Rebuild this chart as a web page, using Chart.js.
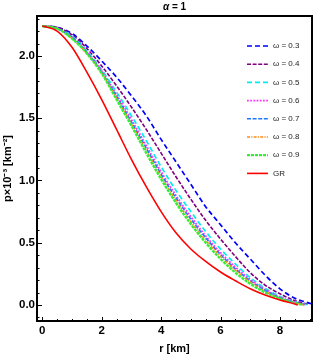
<!DOCTYPE html>
<html>
<head>
<meta charset="utf-8">
<script src="https://cdn.jsdelivr.net/npm/chart.js@4.4.1/dist/chart.umd.min.js"></script>
<style>
  body { margin: 0; background: #fff; }
  canvas { display: block; }
</style>
</head>
<body>
<canvas id="chart" width="313" height="357"></canvas>
<script>
// radius grid [km], shared by every curve; each curve then has its own end point
const rGrid = [0, 0.5, 1, 1.5, 2, 2.5, 3, 3.5, 4, 4.5, 5, 5.5, 6, 6.5, 7, 7.5, 8, 8.5];
const rEnd = [9.05, 8.95, 8.9, 8.87, 8.85, 8.82, 8.8, 8.6];

const labels = ["ω = 0.3", "ω = 0.4", "ω = 0.5", "ω = 0.6", "ω = 0.7", "ω = 0.8", "ω = 0.9", "GR"];

// p x 10^-3 [km^-2] (last value sits at rEnd)
const p03 = [2.24, 2.23, 2.18, 2.08, 1.96, 1.83, 1.68, 1.52, 1.33, 1.15, 0.97, 0.79, 0.645, 0.50, 0.37, 0.24, 0.13, 0.055, 0.01];
const p04 = [2.24, 2.23, 2.17, 2.06, 1.92, 1.76, 1.59, 1.41, 1.22, 1.03, 0.85, 0.68, 0.53, 0.39, 0.26, 0.16, 0.09, 0.035, 0.005];
const p05 = [2.24, 2.22, 2.16, 2.04, 1.89, 1.71, 1.52, 1.32, 1.11, 0.92, 0.75, 0.59, 0.45, 0.33, 0.22, 0.135, 0.07, 0.025, 0.003];
const p06 = [2.24, 2.22, 2.15, 2.03, 1.88, 1.69, 1.49, 1.28, 1.07, 0.88, 0.71, 0.555, 0.42, 0.305, 0.205, 0.125, 0.063, 0.022, 0.002];
const p07 = [2.24, 2.22, 2.15, 2.03, 1.87, 1.675, 1.47, 1.26, 1.05, 0.86, 0.69, 0.54, 0.405, 0.29, 0.195, 0.118, 0.058, 0.02, 0.002];
const p08 = [2.24, 2.22, 2.14, 2.02, 1.865, 1.66, 1.455, 1.24, 1.03, 0.84, 0.67, 0.52, 0.39, 0.28, 0.185, 0.11, 0.054, 0.017, 0.001];
const p09 = [2.24, 2.22, 2.14, 2.02, 1.86, 1.65, 1.44, 1.22, 1.01, 0.82, 0.65, 0.50, 0.37, 0.26, 0.17, 0.10, 0.05, 0.015, 0];
const pGR = [2.24, 2.20, 2.07, 1.87, 1.65, 1.41, 1.17, 0.95, 0.75, 0.58, 0.45, 0.35, 0.265, 0.195, 0.13, 0.08, 0.04, 0.008, 0];

const xTicks = [0, 2, 4, 6, 8];
const yTicks = [0, 0.5, 1.0, 1.5, 2.0];

const series = [p03, p04, p05, p06, p07, p08, p09, pGR];
const colors = ["#0000ff", "#800080", "#00eeee", "#ff33ff", "#1e78ff", "#ff8c1a", "#33ee33", "#ff0000"];
const dashes = [[5, 3], [4, 1.6], [5, 3], [1.8, 1.4], [4, 1.6], [3, 1.2, 1.2, 1.2], [3, 1], []];
const widths = [1.7, 1.6, 1.7, 1.8, 1.6, 1.6, 2.3, 1.6];

function points(vals, end) {
  return vals.map((v, i) => ({ x: i < rGrid.length ? rGrid[i] : end, y: v }));
}

const datasets = series.map((vals, i) => ({
  label: labels[i],
  data: points(vals, rEnd[i]),
  borderColor: colors[i],
  borderDash: dashes[i],
  borderWidth: widths[i],
  pointRadius: 0,
  showLine: true,
  fill: false,
  cubicInterpolationMode: "monotone",
  order: series.length - i
}));

// frame, inward ticks, title and inset legend
const decorations = {
  id: "decorations",
  afterDatasetsDraw(chart) {
    const ctx = chart.ctx;
    const a = chart.chartArea;
    const xs = chart.scales.x, ys = chart.scales.y;
    ctx.save();
    ctx.strokeStyle = "#000";
    ctx.lineWidth = 1;
    ctx.setLineDash([]);
    ctx.beginPath();
    for (let v = 0; v <= 9; v += 0.5) {
      const px = Math.round(xs.getPixelForValue(v)) + 0.5;
      const len = xTicks.includes(v) ? 4 : 2;
      ctx.moveTo(px, a.bottom);
      ctx.lineTo(px, a.bottom - len);
    }
    for (let k = -1; k <= 23; k++) {
      const v = k / 10;
      const py = Math.round(ys.getPixelForValue(v)) + 0.5;
      const len = k % 5 === 0 ? 5 : 2.5;
      ctx.moveTo(a.left, py);
      ctx.lineTo(a.left + len, py);
    }
    ctx.stroke();

    ctx.lineWidth = 2;
    ctx.strokeRect(a.left, a.top, a.right - a.left, a.bottom - a.top);

    // title with italic alpha
    const cx = (a.left + a.right) / 2;
    ctx.fillStyle = "#000";
    ctx.textBaseline = "middle";
    ctx.textAlign = "left";
    ctx.font = "italic bold 10px 'Liberation Sans', Arial, sans-serif";
    const wa = ctx.measureText("α").width;
    ctx.font = "bold 10px 'Liberation Sans', Arial, sans-serif";
    const wr = ctx.measureText(" = 1").width;
    let tx = cx - (wa + wr) / 2;
    ctx.font = "italic bold 10px 'Liberation Sans', Arial, sans-serif";
    ctx.fillText("α", tx, 7);
    ctx.font = "bold 10px 'Liberation Sans', Arial, sans-serif";
    ctx.fillText(" = 1", tx + wa, 7);

    // legend
    ctx.font = "8px 'Liberation Sans', Arial, sans-serif";
    chart.data.datasets.forEach((ds, i) => {
      const y = a.top + 30 + i * 18.2;
      ctx.strokeStyle = ds.borderColor;
      ctx.lineWidth = ds.borderWidth;
      ctx.setLineDash(ds.borderDash);
      ctx.beginPath();
      ctx.moveTo(a.right - 65, y);
      ctx.lineTo(a.right - 44, y);
      ctx.stroke();
      ctx.setLineDash([]);
      ctx.fillStyle = "#222";
      ctx.fillText(ds.label, a.right - 39, y);
    });
    ctx.restore();
  }
};

const tickFont = { family: "'Liberation Sans', Arial, sans-serif", size: 11.5, weight: "bold" };
const titleFont = { family: "'Liberation Sans', Arial, sans-serif", size: 11, weight: "bold" };

new Chart(document.getElementById("chart"), {
  type: "scatter",
  data: { datasets: datasets },
  options: {
    responsive: false,
    animation: false,
    devicePixelRatio: 1,
    layout: { padding: { top: 16, right: 1, left: 0, bottom: 0 } },
    plugins: { legend: { display: false }, tooltip: { enabled: false } },
    scales: {
      x: {
        type: "linear",
        min: -0.178,
        max: 9.08,
        grid: { display: false, drawTicks: false },
        border: { display: false },
        afterBuildTicks: s => { s.ticks = xTicks.map(v => ({ value: v })); },
        afterFit: s => { s.height = 36; },
        ticks: { font: tickFont, color: "#000", padding: 3, callback: v => String(v) },
        title: { display: true, text: "r [km]", font: titleFont, color: "#000", padding: { top: 0, bottom: 1 } }
      },
      y: {
        type: "linear",
        min: -0.1285,
        max: 2.321,
        grid: { display: false, drawTicks: false },
        border: { display: false },
        afterBuildTicks: s => { s.ticks = yTicks.map(v => ({ value: v })); },
        afterFit: s => { s.width = 37; },
        ticks: { font: tickFont, color: "#000", padding: 2, callback: v => v.toFixed(1) },
        title: { display: true, text: "p×10⁻³ [km⁻²]", font: titleFont, color: "#000", padding: { top: 1, bottom: 0 } }
      }
    }
  },
  plugins: [decorations]
});
</script>
</body>
</html>
